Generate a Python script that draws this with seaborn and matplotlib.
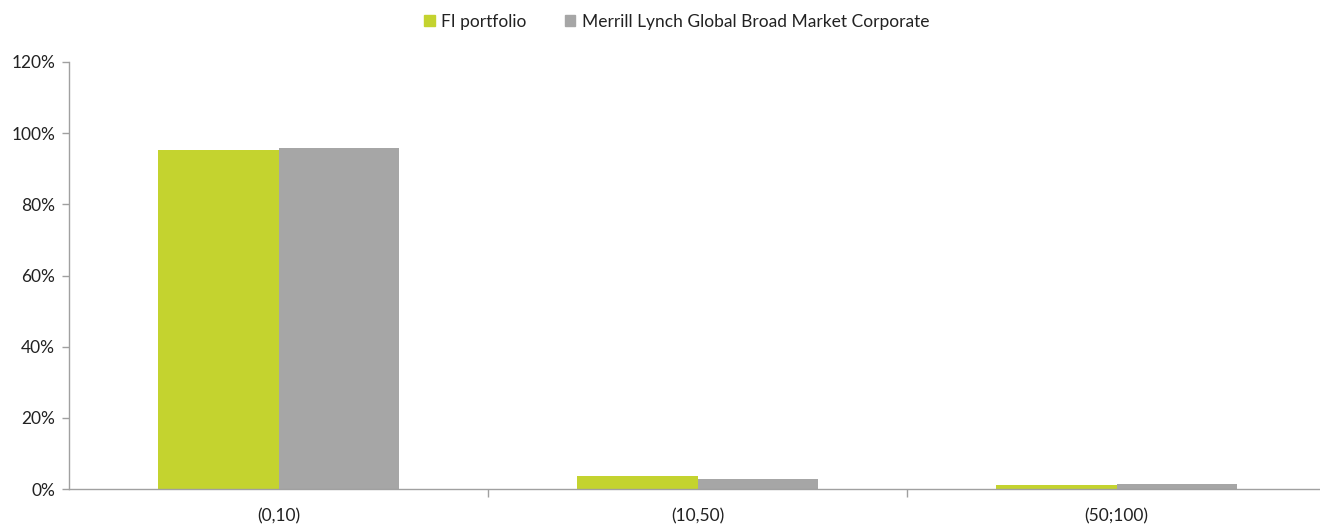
import matplotlib
matplotlib.use("Agg")
import matplotlib.pyplot as plt
import seaborn as sns
import pandas as pd
from matplotlib.ticker import PercentFormatter, FixedLocator

categories = ["(0,10)", "(10,50)", "(50;100)"]
series_names = ["FI portfolio", "Merrill Lynch Global Broad Market Corporate"]
fi_portfolio = [95.3, 3.6, 1.2]
ml_corporate = [95.8, 2.8, 1.5]
colors = ["#C4D32F", "#A6A6A6"]

df = pd.DataFrame({
    "bucket": categories * 2,
    "series": [series_names[0]] * 3 + [series_names[1]] * 3,
    "value": fi_portfolio + ml_corporate,
})

sns.set_theme(style="white")
plt.rcParams["font.family"] = ["Lato", "DejaVu Sans"]

fig = plt.figure(figsize=(13.2, 5.24), dpi=100)
ax = fig.add_axes([69 / 1320, 35 / 524, 1251 / 1320, 427 / 524])

sns.barplot(data=df, x="bucket", y="value", hue="series", order=categories,
            hue_order=series_names, palette=colors, width=0.573,
            saturation=1, errorbar=None, ax=ax, legend=False, linewidth=0)

ax.set_xlim(-0.5, -0.5 + 1251 / 419)
ax.set_ylim(0, 120)
ax.set_yticks(range(0, 121, 20))
ax.yaxis.set_major_formatter(PercentFormatter(decimals=0))
ax.set_xlabel("")
ax.set_ylabel("")

for side in ["top", "right"]:
    ax.spines[side].set_visible(False)
for side in ["left", "bottom"]:
    ax.spines[side].set_color("#A0A0A0")
    ax.spines[side].set_linewidth(1.0)

ax.tick_params(axis="y", which="major", left=True, length=5, width=1,
               color="#A0A0A0", labelsize=12.5, labelcolor="#222222", pad=5)
ax.tick_params(axis="x", which="major", bottom=False, labelsize=12.5,
               labelcolor="#222222", pad=8)
ax.xaxis.set_minor_locator(FixedLocator([0.5, 1.5]))
ax.tick_params(axis="x", which="minor", bottom=True, length=6, width=1,
               color="#A0A0A0")

handles = [plt.Rectangle((0, 0), 1, 1, color=c) for c in colors]
fig.legend(handles, series_names, loc="center",
           bbox_to_anchor=(677 / 1320, 1 - 22 / 524),
           ncol=2, frameon=False, fontsize=12.5, handlelength=0.6, handleheight=0.6,
           handletextpad=0.4, columnspacing=2.2, labelcolor="#222222")

fig.savefig("out.png", dpi=100)
